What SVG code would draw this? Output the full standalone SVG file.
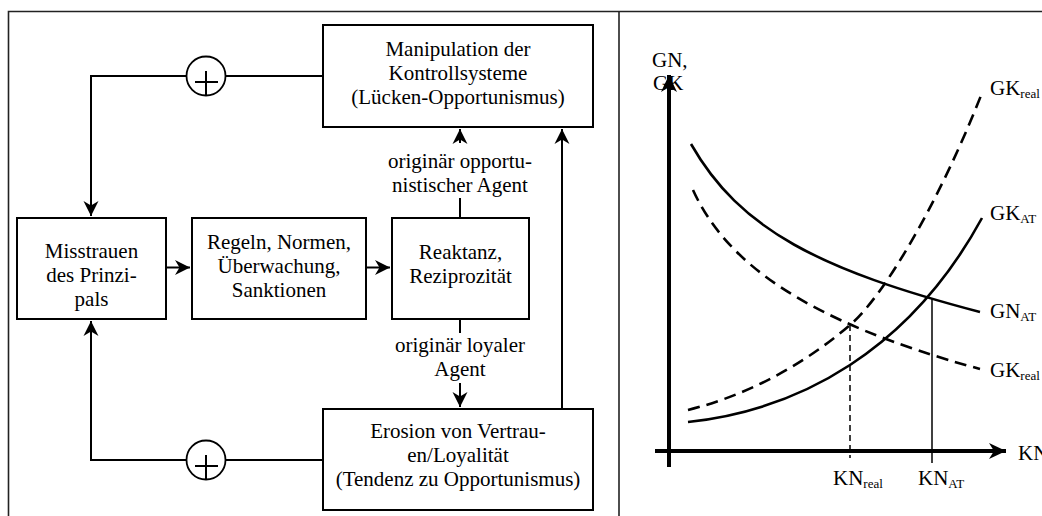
<svg xmlns="http://www.w3.org/2000/svg" width="1042" height="516" viewBox="0 0 1042 516">
<style>
text{font-family:"Liberation Serif","Times New Roman",serif;font-size:21px;fill:#000}
.c{text-anchor:middle}
.box{fill:#fff;stroke:#000;stroke-width:2}
.ln{fill:none;stroke:#000;stroke-width:2}
.frame{fill:none;stroke:#222;stroke-width:1.6}
.sum{fill:#fff;stroke:#000;stroke-width:1.8}
.cur{fill:none;stroke:#000;stroke-width:2.6}
.dash{stroke-dasharray:12 7}
.sub{font-size:13px}
</style>
<defs>
<marker id="ah" viewBox="-16 -8 16 16" refX="0" refY="0" markerWidth="16" markerHeight="16" markerUnits="userSpaceOnUse" orient="auto">
<path d="M0,0 L-15,-7.5 L-10.5,0 L-15,7.5 Z" fill="#000"/>
</marker>
<marker id="ah2" viewBox="-18 -9 18 18" refX="0" refY="0" markerWidth="18" markerHeight="18" markerUnits="userSpaceOnUse" orient="auto">
<path d="M0,0 L-17,-8 L-12,0 L-17,8 Z" fill="#000"/>
</marker>
</defs>
<rect width="1042" height="516" fill="#fff"/>
<g id="frame">
<path class="frame" d="M8.5,516 V11.5 H1042 M619,11.5 V516"/>
</g>
<g id="connectors">
<path class="ln" d="M323,76 H91 V216" marker-end="url(#ah)"/>
<path class="ln" d="M323,460 H91 V321" marker-end="url(#ah)"/>
<path class="ln" d="M166,267.5 H190" marker-end="url(#ah)"/>
<path class="ln" d="M366,267.5 H390" marker-end="url(#ah)"/>
<path class="ln" d="M460,218 V198"/>
<path class="ln" d="M460,143 V129" marker-end="url(#ah)"/>
<path class="ln" d="M460,319 V333"/>
<path class="ln" d="M460,383 V407" marker-end="url(#ah)"/>
<path class="ln" d="M562,409 V129" marker-end="url(#ah)"/>
<text class="c" x="460" y="168">originär opportu-</text>
<text class="c" x="460" y="192">nistischer Agent</text>
<text class="c" x="460" y="352">originär loyaler</text>
<text class="c" x="460" y="376">Agent</text>
</g>
<g id="sum-top">
<circle class="sum" cx="206" cy="76" r="19.5"/>
<path class="ln" d="M195,82 H218 M206,71 V95" stroke-width="1.8"/>
</g>
<g id="sum-bottom">
<circle class="sum" cx="206" cy="460" r="19.5"/>
<path class="ln" d="M195,466 H218 M206,455 V479" stroke-width="1.8"/>
</g>
<g id="manipulation">
<rect class="box" x="323" y="25" width="270" height="102"/>
<text class="c" x="458" y="56">Manipulation der</text>
<text class="c" x="458" y="80">Kontrollsysteme</text>
<text class="c" x="458" y="104">(Lücken-Opportunismus)</text>
</g>
<g id="misstrauen">
<rect class="box" x="17" y="218" width="149" height="101"/>
<text class="c" x="91.5" y="258">Misstrauen</text>
<text class="c" x="91.5" y="282">des Prinzi-</text>
<text class="c" x="91.5" y="306">pals</text>
</g>
<g id="regeln">
<rect class="box" x="192" y="218" width="174" height="101"/>
<text class="c" x="279" y="249">Regeln, Normen,</text>
<text class="c" x="279" y="273">Überwachung,</text>
<text class="c" x="279" y="297">Sanktionen</text>
</g>
<g id="reaktanz">
<rect class="box" x="392" y="218" width="137" height="101"/>
<text class="c" x="460.5" y="259">Reaktanz,</text>
<text class="c" x="460.5" y="283">Reziprozität</text>
</g>
<g id="erosion">
<rect class="box" x="323" y="409" width="270" height="101"/>
<text class="c" x="458" y="438">Erosion von Vertrau-</text>
<text class="c" x="458" y="462">en/Loyalität</text>
<text class="c" x="458" y="486">(Tendenz zu Opportunismus)</text>
</g>
<g id="graph">
<path d="M669,467 V75" fill="none" stroke="#000" stroke-width="4" marker-end="url(#ah2)"/>
<path d="M655,451 H1006" fill="none" stroke="#000" stroke-width="4" marker-end="url(#ah2)"/>
<text x="652" y="67">GN,</text>
<text x="653" y="90">GK</text>
<text x="1018" y="460">KN</text>
<path class="cur" d="M691,144 C740,230 820,270 980,312"/>
<path class="cur dash" d="M693,190 C725,260 800,320 980,369"/>
<path class="cur" d="M688,422 C800,410 910,350 982,218"/>
<path class="cur dash" d="M688,410 C760,392 815,355 850,325 C885,295 940,200 982,93"/>
<path d="M850,325 V458" fill="none" stroke="#000" stroke-width="1.5" stroke-dasharray="6 4"/>
<path d="M932,298 V463" fill="none" stroke="#000" stroke-width="1.5"/>
<text x="990" y="95">GK<tspan class="sub" dy="3">real</tspan></text>
<text x="990" y="220">GK<tspan class="sub" dy="3">AT</tspan></text>
<text x="990" y="318">GN<tspan class="sub" dy="3">AT</tspan></text>
<text x="990" y="377">GK<tspan class="sub" dy="3">real</tspan></text>
<text x="833" y="485">KN<tspan class="sub" dy="3">real</tspan></text>
<text x="918" y="485">KN<tspan class="sub" dy="3">AT</tspan></text>
</g>
</svg>
